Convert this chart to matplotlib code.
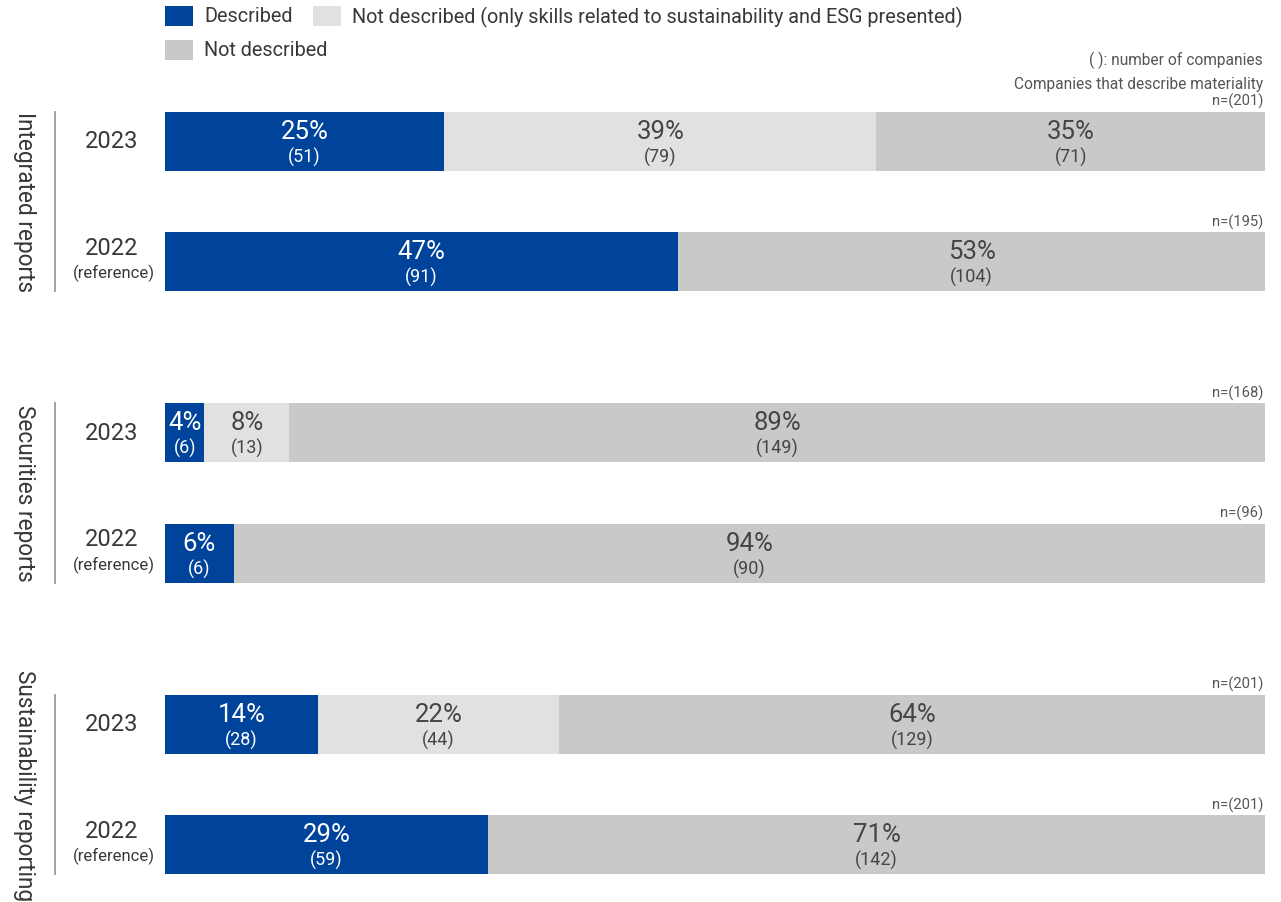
import matplotlib
matplotlib.use("Agg")
import matplotlib.pyplot as plt
from matplotlib.patches import Rectangle

plt.rcParams['font.family'] = ['Roboto', 'DejaVu Sans']

# counts per report type, rows are 2023 then 2022 (reference)
groups = ['Integrated reports', 'Securities reports', 'Sustainability reporting']
years = ['2023', '2022']
described = [[51, 91], [6, 6], [28, 59]]
skills_only = [[79, 0], [13, 0], [44, 0]]
not_described = [[71, 104], [149, 90], [129, 142]]
n_companies = [[201, 195], [168, 96], [201, 201]]

legend_labels = ['Described',
                 'Not described (only skills related to sustainability and ESG presented)',
                 'Not described']
colors = ['#00439a', '#e1e1e1', '#c8c9c8']
label_colors = ['white', '#454545', '#454545']
dark = '#383838'

W, H = 1281, 903
fig = plt.figure(figsize=(W / 100, H / 100), dpi=100, facecolor='white')
x0, x1 = 165, 1265
ax = fig.add_axes([x0 / W, 0, (x1 - x0) / W, 1])
ax.set_xlim(0, 1)
ax.set_ylim(H, 0)
ax.axis('off')


def px(x):
    # pixel column -> axis fraction
    return (x - x0) / (x1 - x0)


top, row_step, group_step, bar_h = 142, 120.5, 291.5, 59

for g, name in enumerate(groups):
    centers = [top + g * group_step + r * row_step for r in range(2)]
    for r, y in enumerate(centers):
        n = n_companies[g][r]
        counts = [described[g][r], skills_only[g][r], not_described[g][r]]
        left = 0
        for k, c in enumerate(counts):
            if c == 0:
                continue
            w = c / n
            ax.barh(y, w, left=left, height=bar_h, color=colors[k], linewidth=0)
            cx = left + w / 2
            ax.text(cx, y - 10, f'{round(c / n * 100)}%', ha='center', va='center',
                    fontsize=18.5, color=label_colors[k])
            ax.text(cx, y + 15, f'({c})', ha='center', va='center',
                    fontsize=13, color=label_colors[k])
            left += w
        ax.text(px(1263), y - bar_h / 2 - 11, f'n=({n})', ha='right', va='center',
                fontsize=10.6, color='#555555')
        if r == 0:
            ax.text(px(112), y, years[r], ha='center', va='center', fontsize=17,
                    color=dark, clip_on=False)
        else:
            ax.text(px(112), y - 14, years[r], ha='center', va='center', fontsize=17,
                    color=dark, clip_on=False)
            ax.text(px(114), y + 11, '(reference)', ha='center', va='center',
                    fontsize=12, color=dark, clip_on=False)
    g_top = centers[0] - bar_h / 2
    g_bot = centers[1] + bar_h / 2
    ax.plot([px(55), px(55)], [g_top, g_bot], color='#9a9a9a', lw=1.3,
            clip_on=False)
    ax.text(px(24), (g_top + g_bot) / 2, name, rotation=270, ha='center',
            va='center', fontsize=16.3, color=dark, clip_on=False)

# legend
legend_pos = [(165, 17), (313, 17), (165, 51)]
for (lx, ly), lab, col in zip(legend_pos, legend_labels, colors):
    ax.add_patch(Rectangle((px(lx), ly - 10), px(lx + 28) - px(lx), 20,
                           facecolor=col, edgecolor='none', clip_on=False))
    ax.text(px(lx + 39), ly, lab, ha='left', va='center', fontsize=14.3,
            color=dark, clip_on=False)

ax.text(px(1263), 60, '( ): number of companies', ha='right', va='center',
        fontsize=11.2, color='#555555')
ax.text(px(1263), 84, 'Companies that describe materiality', ha='right',
        va='center', fontsize=11.2, color='#555555')

fig.savefig('out.png', dpi=100, facecolor='white')
